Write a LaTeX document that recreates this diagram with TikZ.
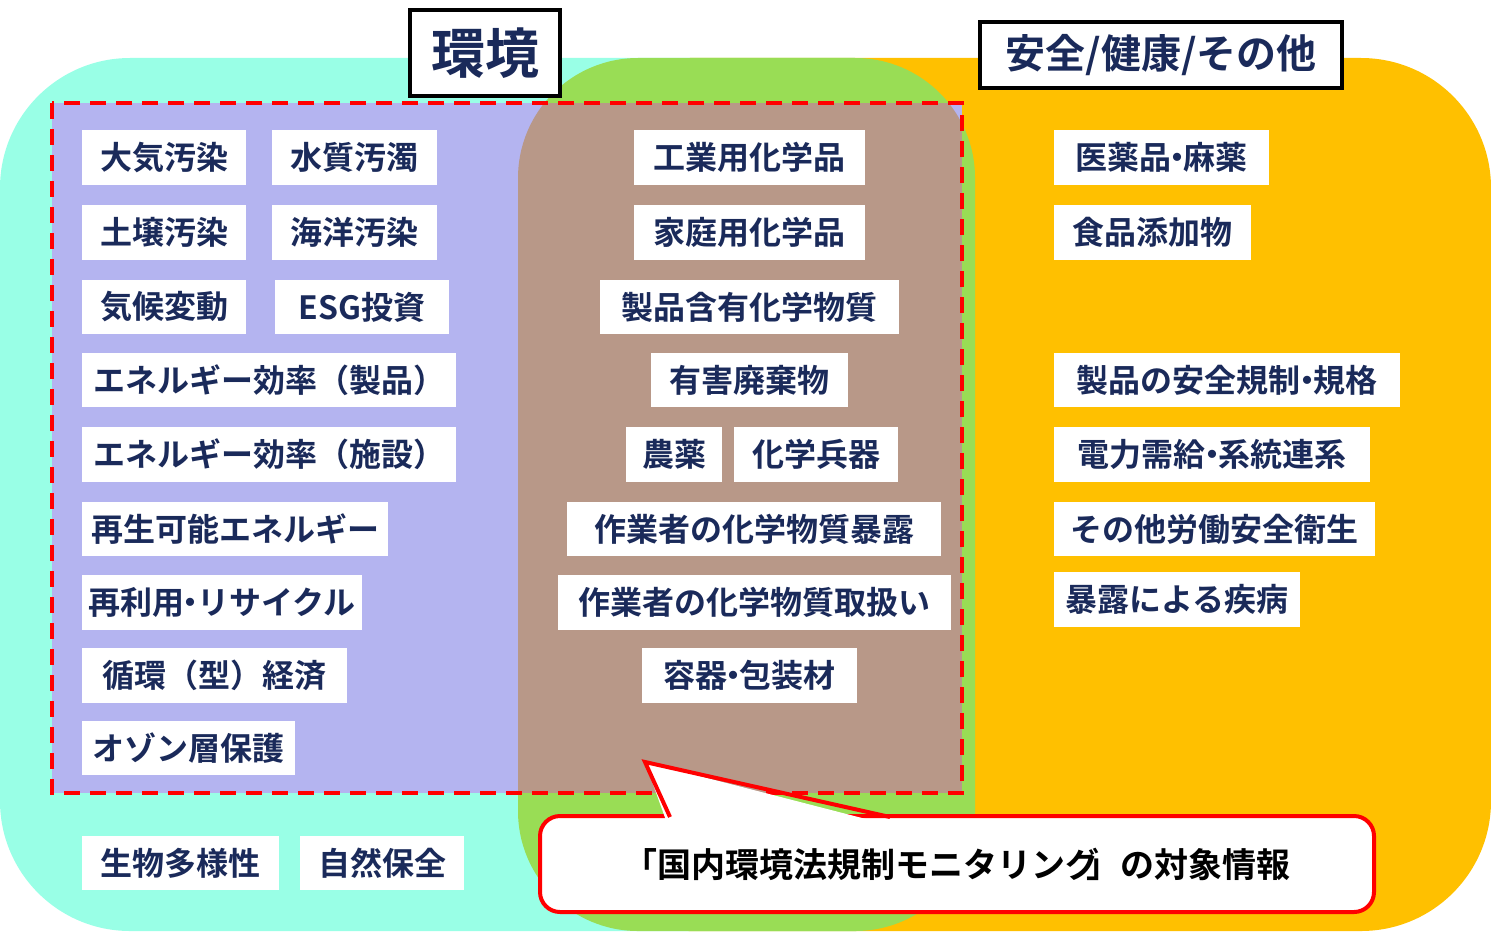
\documentclass[tikz,border=0pt]{standalone}
\usepackage{fontspec}
\setmainfont{Noto Sans CJK JP Bold}
\definecolor{cyanbg}{HTML}{99FFE6}
\definecolor{greenbg}{HTML}{99DD55}
\definecolor{orangebg}{HTML}{FFC000}
\definecolor{envbg}{HTML}{B4B4F0}
\definecolor{mixbg}{HTML}{B89888}
\definecolor{navy}{HTML}{1A2A5A}
\newcommand{\nd}{\kern-.3em・\kern-.3em}
\tikzset{
  lblbox/.style={fill=white,inner sep=0pt,text=navy,font=\fontsize{16}{18}\selectfont},
  titlebox/.style={fill=white,draw=black,line width=2pt,inner sep=0pt,text=navy},
}
\begin{document}
\begin{tikzpicture}[x=0.5pt,y=-0.5pt]
\useasboundingbox (0,0) rectangle (1491,931);
\fill[cyanbg,rounded corners=65pt] (0,58) rectangle (985,931);%environment
\fill[orangebg,rounded corners=65pt] (560,58) rectangle (1491,931);%safety
\fill[greenbg,rounded corners=60pt] (518,58) rectangle (975,931);%overlap
\fill[envbg] (52,103) rectangle (962,793);
\begin{scope}
\clip[rounded corners=60pt] (518,58) rectangle (975,931);
\fill[mixbg] (52,103) rectangle (962,793);
\end{scope}
\draw[red,line width=2pt,dash pattern=on 8pt off 5pt] (52,103) rectangle (962,793);%monitoring

\foreach \n/\xa/\ya/\xb/\yb/\t in {
  air/82/130/246/185/大気汚染, water/272/130/437/185/水質汚濁,
  soil/82/205/246/260/土壌汚染, sea/272/205/437/260/海洋汚染,
  climate/82/280/246/334/気候変動, esg/275/280/449/334/ESG投資,
  effprod/82/353/456/407/エネルギー効率（製品）,
  efffac/82/427/456/482/エネルギー効率（施設）,
  renew/82/502/388/556/再生可能エネルギー,
  recycle/82/575/362/630/再利用\nd リサイクル,
  circ/82/648/347/703/循環（型）経済,
  ozone/82/721/295/775/オゾン層保護,
  bio/82/836/279/890/生物多様性, nature/300/836/464/890/自然保全,
  indchem/634/130/865/185/工業用化学品,
  homechem/634/205/865/260/家庭用化学品,
  prodchem/600/280/899/334/製品含有化学物質,
  waste/651/353/848/407/有害廃棄物,
  pest/626/427/722/482/農薬, weapon/734/427/898/482/化学兵器,
  expo/567/502/941/556/作業者の化学物質暴露,
  handle/558/575/951/630/作業者の化学物質取扱い,
  pack/642/648/857/703/容器\nd 包装材,
  drug/1054/130/1269/185/医薬品\nd 麻薬,
  food/1054/205/1251/260/食品添加物,
  prodsafe/1054/353/1400/407/製品の安全規制\nd 規格,
  power/1054/427/1370/482/電力需給\nd 系統連系,
  ohs/1054/502/1375/556/その他労働安全衛生,
  disease/1054/572/1300/627/暴露による疾病}
{
  \node[lblbox,minimum width={(\xb-\xa)*0.5pt},minimum height={(\yb-\ya)*0.5pt}]
    (\n) at ({(\xa+\xb)/2},{(\ya+\yb)/2}) {\t};
}

\node[titlebox,minimum width=75pt,minimum height=43pt,font=\fontsize{27}{30}\selectfont] (env) at (485,53) {環境};
\node[titlebox,minimum width=181pt,minimum height=33pt,font=\fontsize{20}{24}\selectfont] (safe) at (1161,55) {安全/健康/その他};

% callout
\node[fill=white,draw=red,line width=2pt,rounded corners=10pt,minimum width=417pt,minimum height=48pt,inner sep=0pt,text=black,font=\fontsize{17}{20}\selectfont] (note) at (957,864) {「国内環境法規制モニタリング\kern-.4em」の対象情報};
\coordinate (tip) at (645,762);
\fill[white] (668,826) -- (tip) -- (893,826) -- cycle;
\draw[red,line width=2pt,line join=miter] (670,817) -- (tip) -- (890,817);
\end{tikzpicture}
\end{document}
